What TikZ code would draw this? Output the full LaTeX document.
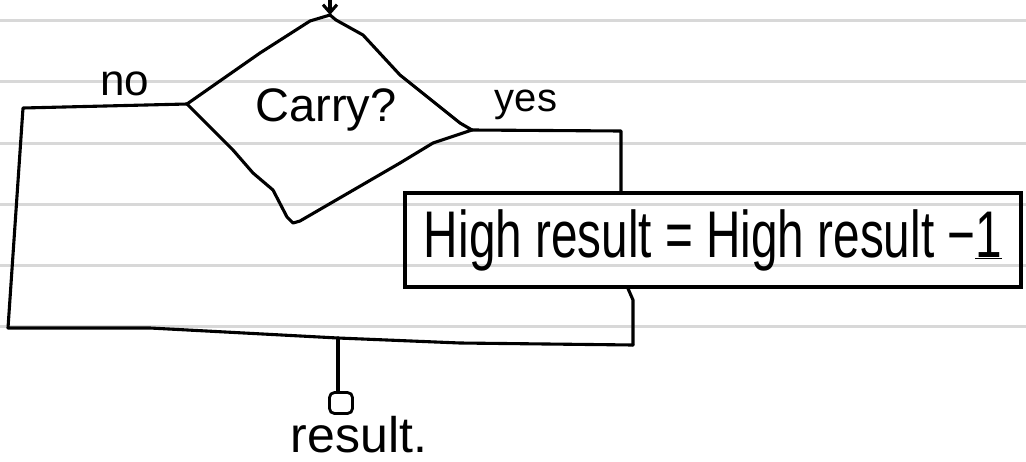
\documentclass[tikz,border=0pt]{standalone}
\usepackage{fontspec}
\setmainfont{Liberation Sans}
\usetikzlibrary{arrows.meta}
\definecolor{ruleline}{RGB}{216,216,216}
\begin{document}
\begin{tikzpicture}[x=1pt,y=-1pt,
  ink/.style={line width=3.1pt, line join=round, line cap=round, draw=black},
  hand/.style={font=\fontsize{#1}{#1}\selectfont, inner sep=0pt, anchor=base},
  procbox/.style={draw=black, line width=3.1pt, minimum width=616pt, minimum height=94pt, inner sep=0pt},
  termbox/.style={draw=black, line width=2.8pt, minimum width=23pt, minimum height=21pt, rounded corners=5pt, inner sep=0pt}]
\useasboundingbox (0,0) rectangle (1026,461);
% ruled paper
\foreach \yy in {20,81,143,204,265,326}
  \draw[ruleline, line width=3pt] (0,\yy) -- (1026,\yy);

% decision diamond
\coordinate (dtop) at (330,15);
\coordinate (dright) at (472,130);
\coordinate (dbot) at (293,223);
\coordinate (dleft) at (187,104);
\draw[ink] (dtop) -- (336,20) -- (363,35) -- (400,75) -- (460,123) -- (dright)
  -- (460,134) -- (433,143) -- (400,163) -- (300,221) -- (dbot)
  -- (287,217) -- (273,190) -- (253,173) -- (233,150) -- (213,130) -- (dleft)
  -- (217,83) -- (260,53) -- (310,21) -- cycle;
\node[hand=47] (carry) at (326,121) {Carry?};

% entry arrow
\coordinate (entry) at (330,-4);
\draw[ink, -{Straight Barb[length=8pt,width=14pt]}] (entry) -- (dtop);

% process box
\node[procbox] (box) at (713,240) {\resizebox{578pt}{\height}{\fontsize{66}{66}\selectfont High result = High result −\underline{1}}};

% labels
\node[hand=44] (no) at (125,95) {no};
\node[hand=40] (yes) at (526,111) {yes};

% no branch
\coordinate (nocorner) at (23,108);
\coordinate (botleft) at (8,328);
\coordinate (join) at (338,338);
\coordinate (botright) at (633,345);
\draw[ink] (dleft) -- (nocorner) -- (botleft) -- (150,328) -- (join) -- (460,343) -- (botright);

% yes branch
\coordinate (yescorner) at (621,131);
\coordinate (outx) at (628,0);
\draw[ink] (dright) -- (yescorner) -- (box.north -| yescorner);
\draw[ink] (box.south -| outx) -- (633,300) -- (botright);

% terminal
\node[termbox] (term) at (341,403) {};
\draw[ink] (join) -- (join |- term.north);
\node[hand=50] (result) at (359,452) {result.};
\end{tikzpicture}
\end{document}
